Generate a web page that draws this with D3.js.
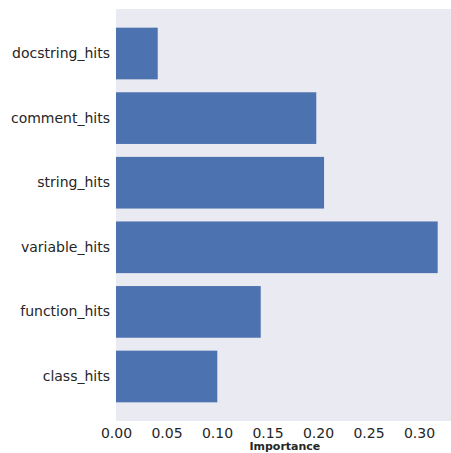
<!DOCTYPE html>
<html>
<head>
<meta charset="utf-8">
<script src="https://cdn.jsdelivr.net/npm/d3@7"></script>
<style>
  html, body { margin: 0; padding: 0; background: #ffffff; }
  svg { display: block; }
</style>
</head>
<body>
<svg id="chart" width="451" height="453"></svg>
<script>
const categories = ["docstring_hits", "comment_hits", "string_hits", "variable_hits", "function_hits", "class_hits"];
const importance = [0.0413, 0.1983, 0.2060, 0.3185, 0.1433, 0.1003];
const xTicks = [0.00, 0.05, 0.10, 0.15, 0.20, 0.25, 0.30];
const xLabel = "Importance";

(function () {
const svg = d3.select("#chart");
const W = 451, H = 453;
const mLeft = 116, mTop = 9, mBottom = 421;
const xMax = d3.max(importance) * 1.05;
const pxPerUnit = 1010;

const x = d3.scaleLinear().domain([0, xMax]).range([mLeft, mLeft + xMax * pxPerUnit]);
const y = d3.scaleBand().domain(categories).range([mTop, mBottom]).paddingInner(0.2).paddingOuter(0.289);

svg.append("rect")
  .attr("x", mLeft).attr("y", mTop)
  .attr("width", W - mLeft).attr("height", mBottom - mTop)
  .attr("fill", "#eaeaf2");

svg.append("g").selectAll("rect")
  .data(categories)
  .join("rect")
  .attr("x", x(0))
  .attr("y", d => y(d))
  .attr("width", (d, i) => x(importance[i]) - x(0))
  .attr("height", y.bandwidth())
  .attr("fill", "#4c72b0");

const xAxis = d3.axisBottom(x).tickValues(xTicks).tickFormat(d3.format(".2f")).tickSize(0).tickPadding(7);
const gx = svg.append("g").attr("transform", `translate(0,${mBottom})`).call(xAxis);
gx.select(".domain").remove();
gx.selectAll("text")
  .attr("font-family", "DejaVu Sans, sans-serif")
  .attr("font-size", "14px")
  .attr("fill", "#262626");

const yAxis = d3.axisLeft(y).tickSize(0).tickPadding(6);
const gy = svg.append("g").attr("transform", `translate(${mLeft},0)`).call(yAxis);
gy.select(".domain").remove();
gy.selectAll("text")
  .attr("font-family", "DejaVu Sans, sans-serif")
  .attr("font-size", "14px")
  .attr("fill", "#262626");

svg.append("text")
  .attr("x", (mLeft + x(xMax)) / 2)
  .attr("y", 450)
  .attr("text-anchor", "middle")
  .attr("font-family", "DejaVu Sans, sans-serif")
  .attr("font-size", "11px")
  .attr("font-weight", "bold")
  .attr("fill", "#262626")
  .text(xLabel);
})();
</script>
</body>
</html>
